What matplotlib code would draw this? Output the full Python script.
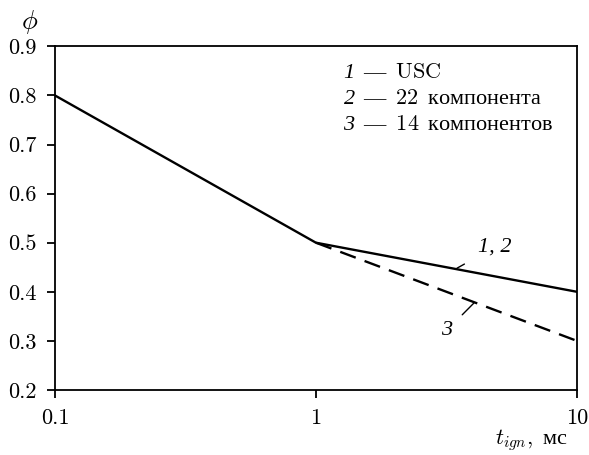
import numpy as np
import matplotlib
matplotlib.use("Agg")
import matplotlib.pyplot as plt

# data
t_solid = [0.1, 1, 10]
phi_solid = [0.8, 0.5, 0.4]      # curves 1, 2 (USC, 22 components)
t_dash = [1, 10]
phi_dash = [0.5, 0.3]            # curve 3 (14 components)

legend_lines = [r"$\mathsf{1}\ \,\mathbf{—}\ \,\mathrm{USC}$",
                r"$\mathsf{2}\ \,\mathbf{—}\ \,\mathrm{22}\ \,\mathbf{компонента}$",
                r"$\mathsf{3}\ \,\mathbf{—}\ \,\mathrm{14}\ \,\mathbf{компонентов}$"]
xticks = [0.1, 1, 10]
xticklabels = ["0.1", "1", "10"]
yticks = [0.2, 0.3, 0.4, 0.5, 0.6, 0.7, 0.8, 0.9]

# Computer Modern for latin/digits, Liberation Serif for cyrillic (via \mathbf)
plt.rcParams['font.family'] = ['cmr10', 'Liberation Serif']
plt.rcParams['mathtext.fontset'] = 'custom'
plt.rcParams['mathtext.rm'] = 'cmr10'
plt.rcParams['mathtext.it'] = 'cmmi10'
plt.rcParams['mathtext.sf'] = 'Liberation Serif:italic'
plt.rcParams['mathtext.bf'] = 'Liberation Serif'
plt.rcParams['axes.unicode_minus'] = False

fs = 16

fig = plt.figure(figsize=(5.89, 4.55), dpi=100)
ax = fig.add_axes([0.0934, 0.143, 0.886, 0.755])

ax.plot(t_solid, phi_solid, color='black', lw=1.7)
ax.plot(t_dash, phi_dash, color='black', lw=1.7, dashes=(7, 4))

ax.set_xscale('log')
ax.set_xlim(0.1, 10)
ax.set_ylim(0.2, 0.9)
ax.set_xticks(xticks)
ax.set_xticklabels(xticklabels)
ax.xaxis.set_minor_locator(matplotlib.ticker.NullLocator())
ax.set_yticks(yticks)
ax.set_yticklabels([f"{v:.1f}" for v in yticks])
ax.tick_params(direction='out', length=6, width=1.3, labelsize=fs, pad=7)
for s in ax.spines.values():
    s.set_linewidth(1.3)

# axis labels
ax.text(-0.048, 1.07, r"$\phi$", transform=ax.transAxes, fontsize=fs + 3,
        ha='center', va='center')
ax.text(0.983, -0.147, r"$t_{ign}\mathrm{,}\ \,\mathbf{мс}$", transform=ax.transAxes,
        fontsize=fs, ha='right', va='center')

# legend as text
for i, s in enumerate(legend_lines):
    ax.text(0.552, 0.926 - i * 0.076, s, transform=ax.transAxes, fontsize=fs,
            ha='left', va='center')

# curve labels with leaders
ax.annotate("1, 2", xy=(3.47, 0.448), xytext=(4.85, 0.491),
            fontsize=fs, ha='center', va='center',
            family='Liberation Serif', style='italic',
            arrowprops=dict(arrowstyle='-', lw=1.0, color='black',
                            shrinkA=9, shrinkB=0))
ax.annotate("3", xy=(4.03, 0.377), xytext=(3.18, 0.322),
            fontsize=fs, ha='center', va='center',
            family='Liberation Serif', style='italic',
            arrowprops=dict(arrowstyle='-', lw=1.0, color='black',
                            shrinkA=7, shrinkB=0))

fig.savefig("out.png", dpi=100)
